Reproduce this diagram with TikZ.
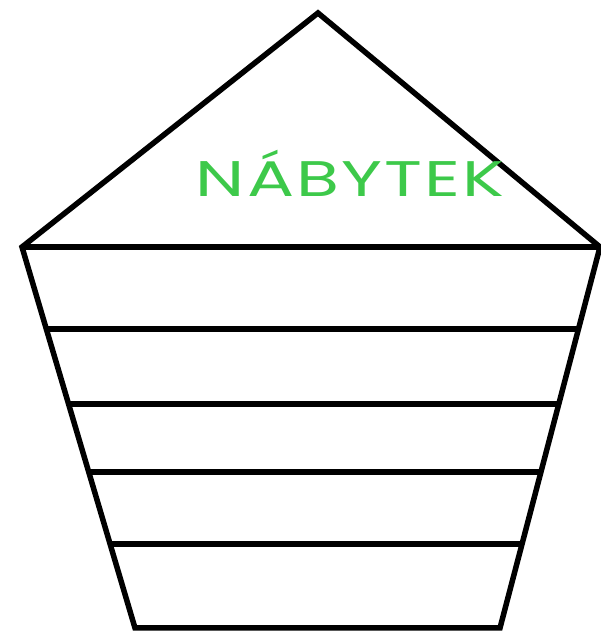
\documentclass[tikz,border=0pt]{standalone}
\usepackage{fontspec}
\usepackage{tikz}
\usetikzlibrary{calc}
\newfontfamily\labelfont[LetterSpace=3]{Poppins}
\definecolor{labc}{HTML}{3DC94A}
\tikzset{
  edge/.style={line width=5.5pt,black,line join=miter},
  lab/.style={text=labc,font=\labelfont\fontsize{50}{50}\selectfont,anchor=base,inner sep=0pt,xscale=1.4,transform shape}
}
\begin{document}
\begin{tikzpicture}[x=1pt,y=1pt]
\useasboundingbox (0,0) rectangle (601,633);
\coordinate (T) at (318,620); \coordinate (L) at (22,386); \coordinate (R) at (600,386);
\coordinate (BL) at (135,5); \coordinate (BR) at (500,5);
\draw[edge] (L)--(T)--(R)--(BR)--(BL)--cycle;
\draw[edge] (L)--(R);
\foreach \t in {0.215,0.412,0.591,0.780}
  \draw[edge] ($(L)!\t!(BL)$)--($(R)!\t!(BR)$);
\node[lab] (name) at (350,436) {NÁBYTEK};
\end{tikzpicture}
\end{document}
